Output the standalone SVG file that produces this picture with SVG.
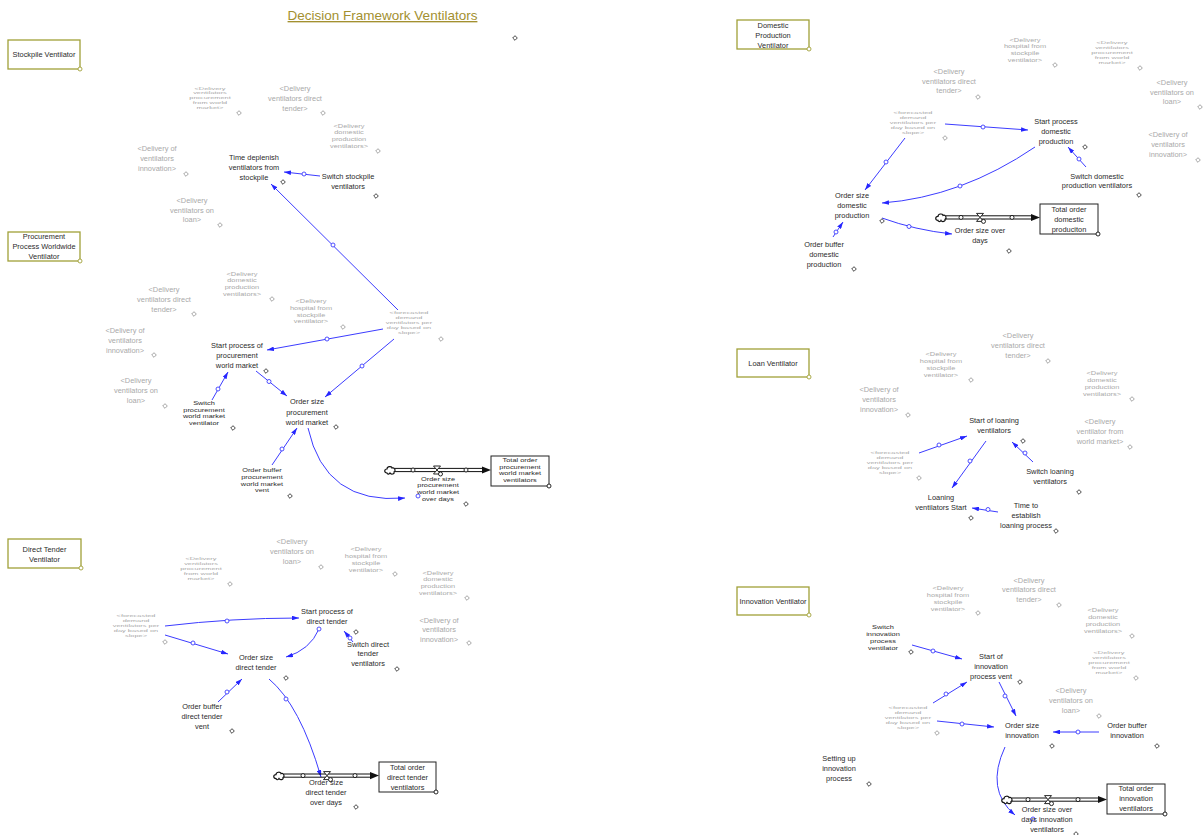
<svg xmlns="http://www.w3.org/2000/svg" xmlns:xlink="http://www.w3.org/1999/xlink" width="1204" height="835" viewBox="0 0 1204 835">
<style>
.t{font-family:"Liberation Sans",Arial,sans-serif;font-size:7.4px;text-anchor:middle;fill:#2a2a2a}
.s{fill:#a9a9a9}
.ti{font-family:"Liberation Sans",Arial,sans-serif;font-size:13.5px;text-anchor:middle;fill:#a39030;text-decoration:underline}
.c{fill:none;stroke:#3c3cff;stroke-width:1;marker-end:url(#ah)}
.k{fill:#fff;stroke:#3c3cff;stroke-width:0.9}
.dk{fill:#fff;stroke:#333;stroke-width:0.9}
.dg{fill:#fff;stroke:#9a9a9a;stroke-width:0.9}
.grp{fill:#fff;stroke:#a0a038;stroke-width:1.3}
.go{fill:#fff;stroke:#a0a038;stroke-width:0.9}
.stk{fill:#fff;stroke:#222;stroke-width:1}
.pp{stroke:#111;stroke-width:1}
.pc{fill:#fff;stroke:#111;stroke-width:0.9}
.cl{fill:#fff;stroke:#111;stroke-width:1.2}
</style>
<defs>
<marker id="ah" viewBox="0 0 7 4.6" refX="7" refY="2.3" markerWidth="7" markerHeight="4.6" orient="auto" markerUnits="userSpaceOnUse" preserveAspectRatio="none"><path d="M0,0 L7,2.3 L0,4.6 Z" fill="#2626ff"/></marker>
<path id="dm" d="M0,-2.3 L2.3,0 L0,2.3 L-2.3,0 Z"/>
<path id="cloud" d="M-3,3 C-6,3 -6,-1 -3,-1 C-3,-4 2,-4 2,-2 C5,-3 6,1 4,2 C5,4 1,5 0,3 C-1,5 -3,4 -3,3 Z"/>
<g id="valve"><path d="M-3.5,-4 H3.5 L-3.5,4 H3.5 Z" fill="#fff" stroke="#111" stroke-width="0.9"/><circle cx="3.5" cy="4" r="2" fill="#fff" stroke="#111" stroke-width="0.9"/></g>
</defs>
<rect width="1204" height="835" fill="#fff"/>

<g id="title"><text class="ti" x="382.5" y="20">Decision Framework Ventilators</text><use href="#dm" x="515" y="38" class="dk"/></g>

<!-- group boxes -->
<g id="grp_stockpile"><rect class="grp" x="8" y="40" width="72" height="29"/><text class="t" x="44" y="57">Stockpile Ventilator</text><circle class="go" cx="80" cy="69" r="2"/></g>
<g id="grp_procurement"><rect class="grp" x="8" y="232" width="72" height="29"/><text class="t"><tspan x="44" y="238.6">Procurement</tspan><tspan x="44" y="248.6">Process Worldwide</tspan><tspan x="44" y="258.6">Ventilator</tspan></text><circle class="go" cx="80" cy="261" r="2"/></g>
<g id="grp_direct"><rect class="grp" x="8" y="539" width="73" height="29"/><text class="t"><tspan x="44.5" y="551.6">Direct Tender</tspan><tspan x="44.5" y="561.6">Ventilator</tspan></text><circle class="go" cx="81" cy="568" r="2"/></g>
<g id="grp_domestic"><rect class="grp" x="737" y="20" width="72" height="29"/><text class="t"><tspan x="773" y="27.6">Domestic</tspan><tspan x="773" y="37.6">Production</tspan><tspan x="773" y="47.6">Ventilator</tspan></text><circle class="go" cx="809" cy="49" r="2"/></g>
<g id="grp_loan"><rect class="grp" x="737" y="349" width="72" height="28"/><text class="t" x="773" y="365.6">Loan Ventilator</text><circle class="go" cx="809" cy="377" r="2"/></g>
<g id="grp_innovation"><rect class="grp" x="737" y="587" width="72" height="28"/><text class="t" x="773" y="603.6">Innovation Ventilator</text><circle class="go" cx="809" cy="615" r="2"/></g>

<!-- connectors -->
<g id="connectors">
<path class="c" d="M320,176 L284,172"/><circle class="k" cx="304" cy="174" r="2"/>
<path class="c" d="M398,310 L271,184"/><circle class="k" cx="333" cy="245" r="2"/>
<path class="c" d="M383,329 L267,350"/><circle class="k" cx="327" cy="339" r="2"/>
<path class="c" d="M394,339 L325,397"/><circle class="k" cx="362" cy="366" r="2"/>
<path class="c" d="M256,371 L287,396"/><circle class="k" cx="269" cy="381.5" r="2"/>
<path class="c" d="M212,400 L228,372"/><circle class="k" cx="218" cy="389" r="2"/>
<path class="c" d="M272,465 L297,428"/><circle class="k" cx="282" cy="449" r="2"/>
<path class="c" d="M308,428 Q325,505 405,498"/><circle class="k" cx="418" cy="496" r="2"/>

<path class="c" d="M165,626 Q232,618 299,618"/><circle class="k" cx="227" cy="621" r="2"/>
<path class="c" d="M165,635 L228,654"/><circle class="k" cx="193" cy="643" r="2"/>
<path class="c" d="M319,629 Q310,650 286,657"/><circle class="k" cx="319" cy="629" r="2"/>
<path class="c" d="M353,642 L344,631"/><circle class="k" cx="350" cy="638" r="2"/>
<path class="c" d="M218,702 L242,679"/><circle class="k" cx="227" cy="692" r="2"/>
<path class="c" d="M269,679 Q300,705 321,777"/><circle class="k" cx="286" cy="699" r="2"/>

<path class="c" d="M945,124 L1028,130"/><circle class="k" cx="983" cy="127" r="2"/>
<path class="c" d="M905,138 L865,190"/><circle class="k" cx="886" cy="162" r="2"/>
<path class="c" d="M1035,147 Q961.5,197 882,203"/><circle class="k" cx="960" cy="186" r="2"/>
<path class="c" d="M1086,167 L1068,147"/><circle class="k" cx="1079" cy="159" r="2"/>
<path class="c" d="M833,237 L843,222"/><circle class="k" cx="836" cy="232" r="2"/>
<path class="c" d="M882,218 Q915,230 952,234"/><circle class="k" cx="909" cy="226.5" r="2"/>

<path class="c" d="M919,453 L967,436"/><circle class="k" cx="939" cy="445" r="2"/>
<path class="c" d="M986,441 L952,488"/><circle class="k" cx="970" cy="461" r="2"/>
<path class="c" d="M1033,462 L1012,442"/><circle class="k" cx="1025" cy="453" r="2"/>
<path class="c" d="M998,512 L972,508"/><circle class="k" cx="988" cy="509.5" r="2"/>

<path class="c" d="M912,645 L962,659"/><circle class="k" cx="933" cy="651" r="2"/>
<path class="c" d="M933,703 L967,682"/><circle class="k" cx="946" cy="694" r="2"/>
<path class="c" d="M937,721 L994,727"/><circle class="k" cx="962" cy="724" r="2"/>
<path class="c" d="M999,682 L1016,716"/><circle class="k" cx="1005" cy="696" r="2"/>
<path class="c" d="M1099,732 L1053,732"/><circle class="k" cx="1078" cy="732" r="2"/>
<path class="c" d="M1005,747 Q985,790 1015,815"/><circle class="k" cx="1033" cy="819" r="2"/>
</g>

<!-- Stockpile section -->
<g id="s1_proc"><text class="t s" transform="translate(0,88.3) scale(1,0.485)"><tspan x="210" y="2.6">&lt;Delivery</tspan><tspan x="210" y="12.6">ventilators</tspan><tspan x="210" y="22.6">procurement</tspan><tspan x="210" y="32.6">from world</tspan><tspan x="210" y="42.6">market&gt;</tspan></text><use href="#dm" x="239" y="113" class="dg"/></g>
<g id="s1_direct"><text class="t s"><tspan x="295" y="90.6">&lt;Delivery</tspan><tspan x="295" y="100.6">ventilators direct</tspan><tspan x="295" y="110.6">tender&gt;</tspan></text><use href="#dm" x="323" y="113" class="dg"/></g>
<g id="s1_domestic"><text class="t s" transform="translate(0,126) scale(1,0.667)"><tspan x="349" y="2.6">&lt;Delivery</tspan><tspan x="349" y="12.6">domestic</tspan><tspan x="349" y="22.6">production</tspan><tspan x="349" y="32.6">ventilators&gt;</tspan></text><use href="#dm" x="378" y="151" class="dg"/></g>
<g id="s1_innov"><text class="t s"><tspan x="157" y="150.6">&lt;Delivery of</tspan><tspan x="157" y="160.6">ventilators</tspan><tspan x="157" y="170.6">innovation&gt;</tspan></text><use href="#dm" x="186" y="174" class="dg"/></g>
<g id="s1_time"><text class="t"><tspan x="254" y="159.6">Time deplenish</tspan><tspan x="254" y="169.6">ventilators from</tspan><tspan x="254" y="179.6">stockpile</tspan></text><use href="#dm" x="283" y="182" class="dk"/></g>
<g id="s1_switch"><text class="t"><tspan x="348" y="178.6">Switch stockpile</tspan><tspan x="348" y="188.6">ventilators</tspan></text><use href="#dm" x="376" y="196" class="dk"/></g>
<g id="s1_loan"><text class="t s"><tspan x="192" y="202.6">&lt;Delivery</tspan><tspan x="192" y="212.6">ventilators on</tspan><tspan x="192" y="221.6">loan&gt;</tspan></text><use href="#dm" x="220" y="225" class="dg"/></g>

<!-- Procurement section -->
<g id="s2_domestic"><text class="t s" transform="translate(0,274) scale(1,0.667)"><tspan x="242" y="2.6">&lt;Delivery</tspan><tspan x="242" y="12.6">domestic</tspan><tspan x="242" y="22.6">production</tspan><tspan x="242" y="32.6">ventilators&gt;</tspan></text><use href="#dm" x="272" y="299" class="dg"/></g>
<g id="s2_direct"><text class="t s"><tspan x="164" y="292">&lt;Delivery</tspan><tspan x="164" y="302">ventilators direct</tspan><tspan x="164" y="311.6">tender&gt;</tspan></text><use href="#dm" x="194" y="314" class="dg"/></g>
<g id="s2_hospital"><text class="t s" transform="translate(0,301.7) scale(1,0.667)"><tspan x="311" y="2.6">&lt;Delivery</tspan><tspan x="311" y="12.6">hospital from</tspan><tspan x="311" y="22.6">stockpile</tspan><tspan x="311" y="32.6">ventilator&gt;</tspan></text><use href="#dm" x="343" y="327" class="dg"/></g>
<g id="s2_forecast"><text class="t s" transform="translate(0,312.7) scale(1,0.5)"><tspan x="409" y="2.6">&lt;forecasted</tspan><tspan x="409" y="12.6">demand</tspan><tspan x="409" y="22.6">ventilators per</tspan><tspan x="409" y="32.6">day based on</tspan><tspan x="409" y="42.6">slope&gt;</tspan></text><use href="#dm" x="441" y="339" class="dg"/></g>
<g id="s2_innov"><text class="t s"><tspan x="125" y="332.6">&lt;Delivery of</tspan><tspan x="125" y="342.6">ventilators</tspan><tspan x="125" y="352.6">innovation&gt;</tspan></text><use href="#dm" x="154" y="355" class="dg"/></g>
<g id="s2_start"><text class="t"><tspan x="237" y="348.3">Start process of</tspan><tspan x="237" y="358.3">procurement</tspan><tspan x="237" y="368.3">world market</tspan></text><use href="#dm" x="266" y="371" class="dk"/></g>
<g id="s2_loan"><text class="t s"><tspan x="136" y="382.6">&lt;Delivery</tspan><tspan x="136" y="392.6">ventilators on</tspan><tspan x="136" y="402.6">loan&gt;</tspan></text><use href="#dm" x="165" y="406" class="dg"/></g>
<g id="s2_switch"><text class="t" transform="translate(0,403.3) scale(1,0.667)"><tspan x="204" y="2.6">Switch</tspan><tspan x="204" y="12.6">procurement</tspan><tspan x="204" y="22.6">world market</tspan><tspan x="204" y="32.6">ventilator</tspan></text><use href="#dm" x="233" y="428" class="dk"/></g>
<g id="s2_order"><text class="t"><tspan x="307" y="404.3">Order size</tspan><tspan x="307" y="414.6">procurement</tspan><tspan x="307" y="424.6">world market</tspan></text><use href="#dm" x="336" y="427" class="dk"/></g>
<g id="s2_buffer"><text class="t" transform="translate(0,470) scale(1,0.69)"><tspan x="262" y="2.6">Order buffer</tspan><tspan x="262" y="12.6">procurement</tspan><tspan x="262" y="22.6">world market</tspan><tspan x="262" y="32.6">vent</tspan></text><use href="#dm" x="290" y="496" class="dk"/></g>
<g id="s2_stock"><rect class="stk" x="491" y="456" width="58" height="30"/><text class="t" transform="translate(0,460.3) scale(1,0.667)"><tspan x="520" y="2.6">Total order</tspan><tspan x="520" y="12.6">procurement</tspan><tspan x="520" y="22.6">world market</tspan><tspan x="520" y="32.6">ventilators</tspan></text><circle class="pc" cx="549" cy="486" r="2"/></g>
<g id="s2_flow">
<line class="pp" x1="395" y1="468.4" x2="483" y2="468.4"/><line class="pp" x1="395" y1="471.6" x2="483" y2="471.6"/>
<polygon points="482,466.5 491,470 482,473.5" fill="#111"/>
<use href="#cloud" x="390" y="470" class="cl"/>
<circle class="pc" cx="413" cy="470" r="2"/><circle class="pc" cx="466" cy="470" r="2"/>
<use href="#valve" x="437" y="470"/>
<text class="t" transform="translate(0,479) scale(1,0.667)"><tspan x="438" y="2.6">Order size</tspan><tspan x="438" y="12.6">procurement</tspan><tspan x="438" y="22.6">world market</tspan><tspan x="438" y="32.6">over days</tspan></text><use href="#dm" x="466" y="504" class="dk"/></g>

<!-- Direct tender section -->
<g id="s3_proc"><text class="t s" transform="translate(0,559) scale(1,0.5)"><tspan x="201" y="2.6">&lt;Delivery</tspan><tspan x="201" y="12.6">ventilators</tspan><tspan x="201" y="22.6">procurement</tspan><tspan x="201" y="32.6">from world</tspan><tspan x="201" y="42.6">market&gt;</tspan></text><use href="#dm" x="230" y="584" class="dg"/></g>
<g id="s3_loan"><text class="t s"><tspan x="292" y="544.3">&lt;Delivery</tspan><tspan x="292" y="554">ventilators on</tspan><tspan x="292" y="563.6">loan&gt;</tspan></text><use href="#dm" x="321" y="567" class="dg"/></g>
<g id="s3_hospital"><text class="t s" transform="translate(0,549) scale(1,0.7)"><tspan x="366" y="2.6">&lt;Delivery</tspan><tspan x="366" y="12.6">hospital from</tspan><tspan x="366" y="22.6">stockpile</tspan><tspan x="366" y="32.6">ventilator&gt;</tspan></text><use href="#dm" x="395" y="574" class="dg"/></g>
<g id="s3_domestic"><text class="t s" transform="translate(0,573) scale(1,0.67)"><tspan x="438" y="2.6">&lt;Delivery</tspan><tspan x="438" y="12.6">domestic</tspan><tspan x="438" y="22.6">production</tspan><tspan x="438" y="32.6">ventilators&gt;</tspan></text><use href="#dm" x="467" y="598" class="dg"/></g>
<g id="s3_innov"><text class="t s"><tspan x="439" y="622.6">&lt;Delivery of</tspan><tspan x="439" y="631.6">ventilators</tspan><tspan x="439" y="641.6">innovation&gt;</tspan></text><use href="#dm" x="469" y="643" class="dg"/></g>
<g id="s3_forecast"><text class="t s" transform="translate(0,616) scale(1,0.5)"><tspan x="136" y="2.6">&lt;forecasted</tspan><tspan x="136" y="12.6">demand</tspan><tspan x="136" y="22.6">ventilators per</tspan><tspan x="136" y="32.6">day based on</tspan><tspan x="136" y="42.6">slope&gt;</tspan></text><use href="#dm" x="165" y="642" class="dg"/></g>
<g id="s3_start"><text class="t"><tspan x="327" y="613.6">Start process of</tspan><tspan x="327" y="623.6">direct tender</tspan></text><use href="#dm" x="356" y="632" class="dk"/></g>
<g id="s3_switch"><text class="t"><tspan x="368" y="646.6">Switch direct</tspan><tspan x="368" y="656.3">tender</tspan><tspan x="368" y="666.3">ventilators</tspan></text><use href="#dm" x="397" y="669" class="dk"/></g>
<g id="s3_order"><text class="t"><tspan x="256" y="660.3">Order size</tspan><tspan x="256" y="670">direct tender</tspan></text><use href="#dm" x="286" y="678" class="dk"/></g>
<g id="s3_buffer"><text class="t"><tspan x="202" y="708.6">Order buffer</tspan><tspan x="202" y="718.6">direct tender</tspan><tspan x="202" y="728.6">vent</tspan></text><use href="#dm" x="232" y="731" class="dk"/></g>
<g id="s3_stock"><rect class="stk" x="379" y="762" width="57" height="30"/><text class="t"><tspan x="407.5" y="770">Total order</tspan><tspan x="407.5" y="780">direct tender</tspan><tspan x="407.5" y="790">ventilators</tspan></text><circle class="pc" cx="436" cy="792" r="2"/></g>
<g id="s3_flow">
<line class="pp" x1="284" y1="774" x2="371" y2="774"/><line class="pp" x1="284" y1="777.2" x2="371" y2="777.2"/>
<polygon points="370,772 379,775.6 370,779.2" fill="#111"/>
<use href="#cloud" x="279" y="775.6" class="cl"/>
<circle class="pc" cx="303" cy="775.6" r="2"/><circle class="pc" cx="355" cy="775.6" r="2"/>
<use href="#valve" x="327" y="775.6"/>
<text class="t"><tspan x="326" y="784.6">Order size</tspan><tspan x="326" y="794.6">direct tender</tspan><tspan x="326" y="804.6">over days</tspan></text><use href="#dm" x="356" y="807" class="dk"/></g>

<!-- Domestic section -->
<g id="s4_hospital"><text class="t s" transform="translate(0,40) scale(1,0.667)"><tspan x="1025" y="2.6">&lt;Delivery</tspan><tspan x="1025" y="12.6">hospital from</tspan><tspan x="1025" y="22.6">stockpile</tspan><tspan x="1025" y="32.6">ventilator&gt;</tspan></text><use href="#dm" x="1055" y="65" class="dg"/></g>
<g id="s4_proc"><text class="t s" transform="translate(0,42.7) scale(1,0.5)"><tspan x="1112" y="2.6">&lt;Delivery</tspan><tspan x="1112" y="12.6">ventilators</tspan><tspan x="1112" y="22.6">procurement</tspan><tspan x="1112" y="32.6">from world</tspan><tspan x="1112" y="42.6">market&gt;</tspan></text><use href="#dm" x="1140" y="68" class="dg"/></g>
<g id="s4_direct"><text class="t s"><tspan x="949" y="74.3">&lt;Delivery</tspan><tspan x="949" y="83.6">ventilators direct</tspan><tspan x="949" y="93.3">tender&gt;</tspan></text><use href="#dm" x="978" y="97" class="dg"/></g>
<g id="s4_loan"><text class="t s"><tspan x="1172" y="85">&lt;Delivery</tspan><tspan x="1172" y="94.6">ventilators on</tspan><tspan x="1172" y="104">loan&gt;</tspan></text><use href="#dm" x="1200" y="107" class="dg"/></g>
<g id="s4_forecast"><text class="t s" transform="translate(0,112.7) scale(1,0.5)"><tspan x="913" y="2.6">&lt;forecasted</tspan><tspan x="913" y="12.6">demand</tspan><tspan x="913" y="22.6">ventilators per</tspan><tspan x="913" y="32.6">day based on</tspan><tspan x="913" y="42.6">slope&gt;</tspan></text><use href="#dm" x="945" y="138" class="dg"/></g>
<g id="s4_start"><text class="t"><tspan x="1056" y="124.3">Start process</tspan><tspan x="1056" y="134.3">domestic</tspan><tspan x="1056" y="144.3">production</tspan></text><use href="#dm" x="1085" y="147" class="dk"/></g>
<g id="s4_innov"><text class="t s"><tspan x="1168" y="137.3">&lt;Delivery of</tspan><tspan x="1168" y="147.3">ventilators</tspan><tspan x="1168" y="157.3">innovation&gt;</tspan></text><use href="#dm" x="1198" y="160" class="dg"/></g>
<g id="s4_switch"><text class="t"><tspan x="1097" y="178.6">Switch domestic</tspan><tspan x="1097" y="188.3">production ventilators</tspan></text><use href="#dm" x="1139" y="195" class="dk"/></g>
<g id="s4_order"><text class="t"><tspan x="852" y="198.3">Order size</tspan><tspan x="852" y="208.3">domestic</tspan><tspan x="852" y="218.3">production</tspan></text><use href="#dm" x="882" y="221" class="dk"/></g>
<g id="s4_buffer"><text class="t"><tspan x="824" y="246.6">Order buffer</tspan><tspan x="824" y="256.6">domestic</tspan><tspan x="824" y="266.6">production</tspan></text><use href="#dm" x="854" y="269" class="dk"/></g>
<g id="s4_stock"><rect class="stk" x="1040" y="204" width="58" height="30"/><text class="t"><tspan x="1069" y="212">Total order</tspan><tspan x="1069" y="222">domestic</tspan><tspan x="1069" y="232">produciton</tspan></text><circle class="pc" cx="1098" cy="234" r="2"/></g>
<g id="s4_flow">
<line class="pp" x1="946" y1="215.8" x2="1032" y2="215.8"/><line class="pp" x1="946" y1="219" x2="1032" y2="219"/>
<polygon points="1031,213.9 1040,217.4 1031,220.9" fill="#111"/>
<use href="#cloud" x="941" y="217.4" class="cl"/>
<circle class="pc" cx="961" cy="217.4" r="2"/><circle class="pc" cx="1012" cy="217.4" r="2"/>
<use href="#valve" x="980" y="217.4"/>
<text class="t"><tspan x="980" y="233.3">Order size over</tspan><tspan x="980" y="243.3">days</tspan></text><use href="#dm" x="1009" y="251" class="dk"/></g>

<!-- Loan section -->
<g id="s5_direct"><text class="t s"><tspan x="1018" y="338.3">&lt;Delivery</tspan><tspan x="1018" y="348.3">ventilators direct</tspan><tspan x="1018" y="358">tender&gt;</tspan></text><use href="#dm" x="1048" y="361" class="dg"/></g>
<g id="s5_hospital"><text class="t s" transform="translate(0,354.3) scale(1,0.7)"><tspan x="941" y="2.6">&lt;Delivery</tspan><tspan x="941" y="12.6">hospital from</tspan><tspan x="941" y="22.6">stockpile</tspan><tspan x="941" y="32.6">ventilator&gt;</tspan></text><use href="#dm" x="971" y="380" class="dg"/></g>
<g id="s5_domestic"><text class="t s" transform="translate(0,373.3) scale(1,0.69)"><tspan x="1102" y="2.6">&lt;Delivery</tspan><tspan x="1102" y="12.6">domestic</tspan><tspan x="1102" y="22.6">production</tspan><tspan x="1102" y="32.6">ventilators&gt;</tspan></text><use href="#dm" x="1132" y="399" class="dg"/></g>
<g id="s5_innov"><text class="t s"><tspan x="879" y="392">&lt;Delivery of</tspan><tspan x="879" y="402">ventilators</tspan><tspan x="879" y="411.6">innovation&gt;</tspan></text><use href="#dm" x="908" y="415" class="dg"/></g>
<g id="s5_start"><text class="t"><tspan x="994" y="423.3">Start of loaning</tspan><tspan x="994" y="433.3">ventilators</tspan></text><use href="#dm" x="1023" y="441" class="dk"/></g>
<g id="s5_world"><text class="t s"><tspan x="1100" y="424.3">&lt;Delivery</tspan><tspan x="1100" y="434.3">ventilator from</tspan><tspan x="1100" y="444">world market&gt;</tspan></text><use href="#dm" x="1130" y="447" class="dg"/></g>
<g id="s5_forecast"><text class="t s" transform="translate(0,452.3) scale(1,0.5)"><tspan x="890" y="2.6">&lt;forecasted</tspan><tspan x="890" y="12.6">demand</tspan><tspan x="890" y="22.6">ventilators per</tspan><tspan x="890" y="32.6">day based on</tspan><tspan x="890" y="42.6">slope&gt;</tspan></text><use href="#dm" x="919" y="478" class="dg"/></g>
<g id="s5_switch"><text class="t"><tspan x="1050" y="473.6">Switch loaning</tspan><tspan x="1050" y="483.6">ventilators</tspan></text><use href="#dm" x="1079" y="492" class="dk"/></g>
<g id="s5_loaning"><text class="t"><tspan x="941" y="500.3">Loaning</tspan><tspan x="941" y="510.3">ventilators Start</tspan></text><use href="#dm" x="971" y="518" class="dk"/></g>
<g id="s5_time"><text class="t"><tspan x="1026" y="508.3">Time to</tspan><tspan x="1026" y="518">establish</tspan><tspan x="1026" y="527.6">loaning process</tspan></text><use href="#dm" x="1056" y="531" class="dk"/></g>

<!-- Innovation section -->
<g id="s6_hospital"><text class="t s" transform="translate(0,587.7) scale(1,0.7)"><tspan x="948" y="2.6">&lt;Delivery</tspan><tspan x="948" y="12.6">hospital from</tspan><tspan x="948" y="22.6">stockpile</tspan><tspan x="948" y="32.6">ventilator&gt;</tspan></text><use href="#dm" x="978" y="613" class="dg"/></g>
<g id="s6_direct"><text class="t s"><tspan x="1029" y="582.6">&lt;Delivery</tspan><tspan x="1029" y="592.3">ventilators direct</tspan><tspan x="1029" y="602">tender&gt;</tspan></text><use href="#dm" x="1059" y="605" class="dg"/></g>
<g id="s6_domestic"><text class="t s" transform="translate(0,610.7) scale(1,0.68)"><tspan x="1103" y="2.6">&lt;Delivery</tspan><tspan x="1103" y="12.6">domestic</tspan><tspan x="1103" y="22.6">production</tspan><tspan x="1103" y="32.6">ventilators&gt;</tspan></text><use href="#dm" x="1132" y="636" class="dg"/></g>
<g id="s6_switch"><text class="t" transform="translate(0,627.3) scale(1,0.69)"><tspan x="883" y="2.6">Switch</tspan><tspan x="883" y="12.6">innovation</tspan><tspan x="883" y="22.6">process</tspan><tspan x="883" y="32.6">ventilator</tspan></text><use href="#dm" x="911" y="652" class="dk"/></g>
<g id="s6_start"><text class="t"><tspan x="991" y="659.3">Start of</tspan><tspan x="991" y="669.3">innovation</tspan><tspan x="991" y="679.3">process vent</tspan></text><use href="#dm" x="1020" y="682" class="dk"/></g>
<g id="s6_proc"><text class="t s" transform="translate(0,652.7) scale(1,0.5)"><tspan x="1109" y="2.6">&lt;Delivery</tspan><tspan x="1109" y="12.6">ventilators</tspan><tspan x="1109" y="22.6">procurement</tspan><tspan x="1109" y="32.6">from world</tspan><tspan x="1109" y="42.6">market&gt;</tspan></text><use href="#dm" x="1136" y="678" class="dg"/></g>
<g id="s6_loan"><text class="t s"><tspan x="1071" y="693.3">&lt;Delivery</tspan><tspan x="1071" y="703.3">ventilators on</tspan><tspan x="1071" y="713">loan&gt;</tspan></text><use href="#dm" x="1099" y="716" class="dg"/></g>
<g id="s6_forecast"><text class="t s" transform="translate(0,707.3) scale(1,0.5)"><tspan x="908" y="2.6">&lt;forecasted</tspan><tspan x="908" y="12.6">demand</tspan><tspan x="908" y="22.6">ventilators per</tspan><tspan x="908" y="32.6">day based on</tspan><tspan x="908" y="42.6">slope&gt;</tspan></text><use href="#dm" x="937" y="733" class="dg"/></g>
<g id="s6_order"><text class="t"><tspan x="1022" y="728.3">Order size</tspan><tspan x="1022" y="738.3">innovation</tspan></text><use href="#dm" x="1052" y="746" class="dk"/></g>
<g id="s6_buffer"><text class="t"><tspan x="1127" y="728.3">Order buffer</tspan><tspan x="1127" y="738.3">innovation</tspan></text><use href="#dm" x="1157" y="746" class="dk"/></g>
<g id="s6_setting"><text class="t"><tspan x="839" y="761.3">Setting up</tspan><tspan x="839" y="771.3">innovation</tspan><tspan x="839" y="781">process</tspan></text><use href="#dm" x="869" y="784" class="dk"/></g>
<g id="s6_stock"><rect class="stk" x="1107" y="784" width="58" height="30"/><text class="t"><tspan x="1136" y="791.3">Total order</tspan><tspan x="1136" y="801.3">innovation</tspan><tspan x="1136" y="811.3">ventilators</tspan></text><circle class="pc" cx="1165" cy="814" r="2"/></g>
<g id="s6_flow">
<line class="pp" x1="1012" y1="798" x2="1099" y2="798"/><line class="pp" x1="1012" y1="801.2" x2="1099" y2="801.2"/>
<polygon points="1098,796.1 1107,799.6 1098,803.1" fill="#111"/>
<use href="#cloud" x="1007" y="799.6" class="cl"/>
<circle class="pc" cx="1028" cy="799.6" r="2"/><circle class="pc" cx="1078" cy="799.6" r="2"/>
<use href="#valve" x="1048" y="799.6"/>
<text class="t"><tspan x="1047" y="812.3">Order size over</tspan><tspan x="1047" y="822">days innovation</tspan><tspan x="1047" y="832">ventilators</tspan></text><use href="#dm" x="1076" y="834" class="dk"/></g>
</svg>
